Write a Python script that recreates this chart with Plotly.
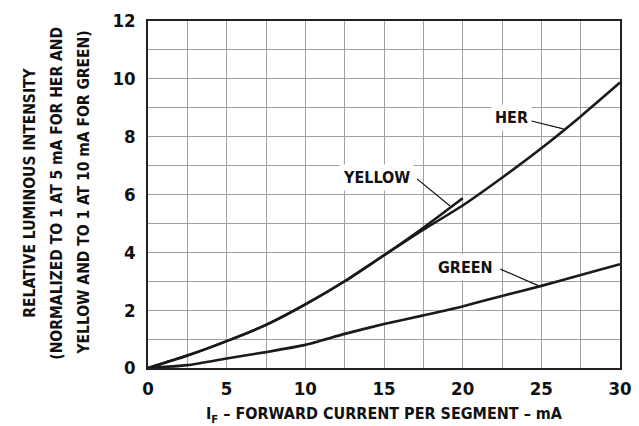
import plotly.graph_objects as go

# Data
current_her = [0, 2.5, 5, 7.5, 10, 12.5, 15, 17.5, 20, 22.5, 25, 27.5, 30]
her = [0, 0.43, 0.93, 1.49, 2.2, 3.0, 3.9, 4.78, 5.62, 6.58, 7.6, 8.7, 9.87]

current_yellow = [0, 2.5, 5, 7.5, 10, 12.5, 15, 17.5, 20]
yellow = [0, 0.43, 0.93, 1.49, 2.2, 3.0, 3.9, 4.85, 5.87]

current_green = [0, 2.5, 5, 7.5, 10, 12.5, 15, 17.5, 20, 22.5, 25, 27.5, 30]
green = [0, 0.1, 0.33, 0.55, 0.8, 1.18, 1.52, 1.82, 2.13, 2.49, 2.84, 3.22, 3.59]

x_ticks = [0, 5, 10, 15, 20, 25, 30]
y_ticks = [0, 2, 4, 6, 8, 10, 12]

y_title_lines = [
    "RELATIVE LUMINOUS INTENSITY",
    "(NORMALIZED TO 1 AT 5 mA FOR HER AND",
    "YELLOW AND TO 1 AT 10 mA FOR GREEN)",
]

FONT = "DejaVu Sans Condensed, Liberation Sans Narrow, DejaVu Sans, sans-serif"

def f(size):
    return dict(family=FONT, size=size, color="#111", weight="bold")

fig = go.Figure()
line = dict(color="#1a1a1a", width=2.6, shape="spline", smoothing=0.6)
fig.add_trace(go.Scatter(x=current_her, y=her, mode="lines", line=line, name="HER"))
fig.add_trace(go.Scatter(x=current_yellow, y=yellow, mode="lines", line=line, name="YELLOW"))
fig.add_trace(go.Scatter(x=current_green, y=green, mode="lines", line=line, name="GREEN"))

labels = [
    ("HER", 23.1, 8.65, (24.3, 8.55), (26.4, 8.27)),
    ("YELLOW", 14.5, 6.6, (17.1, 6.54), (19.2, 5.6)),
    ("GREEN", 20.15, 3.49, (22.4, 3.42), (24.8, 2.85)),
]
for text, tx, ty, p0, p1 in labels:
    fig.add_annotation(x=tx, y=ty, text=text, showarrow=False, bgcolor="white",
                       font=f(16), borderpad=3)
    fig.add_shape(type="line", x0=p0[0], y0=p0[1], x1=p1[0], y1=p1[1],
                  line=dict(color="#111", width=1.2))

# Y-axis title as three rotated lines (wider line spacing than a single title)
for i, txt in enumerate(y_title_lines):
    fig.add_annotation(xref="paper", yref="paper", x=[-0.25, -0.193, -0.136][i], y=0.505,
                       text=txt, showarrow=False, textangle=-90,
                       xanchor="center", yanchor="middle", font=f(15.5))

axis_common = dict(showgrid=True, gridcolor="#a0a0a0", gridwidth=1.2,
                   showline=True, linecolor="#222", linewidth=1.5, mirror=True,
                   zeroline=False, ticks="", tickfont=f(18.5), automargin=False)

x_grid = [i * 2.5 for i in range(13)]
y_grid = list(range(13))

fig.update_layout(
    width=639, height=426,
    margin=dict(l=148, r=19, t=21, b=58),
    plot_bgcolor="white", paper_bgcolor="white",
    showlegend=False,
    xaxis=dict(range=[0, 30], tickmode="array", tickvals=x_grid,
               ticktext=[str(int(v)) if v in x_ticks else "" for v in x_grid],
               ticklabelstandoff=3,
               title=dict(text="I<sub>F</sub> – FORWARD CURRENT PER SEGMENT – mA",
                          font=f(16), standoff=10),
               **axis_common),
    yaxis=dict(range=[0, 12], tickmode="array", tickvals=y_grid,
               ticktext=[str(v) if v in y_ticks else "" for v in y_grid],
               ticklabelstandoff=7,
               **axis_common),
)

fig.write_html("out.html", config={"displayModeBar": False},
               post_script="document.body.style.margin='0';")
